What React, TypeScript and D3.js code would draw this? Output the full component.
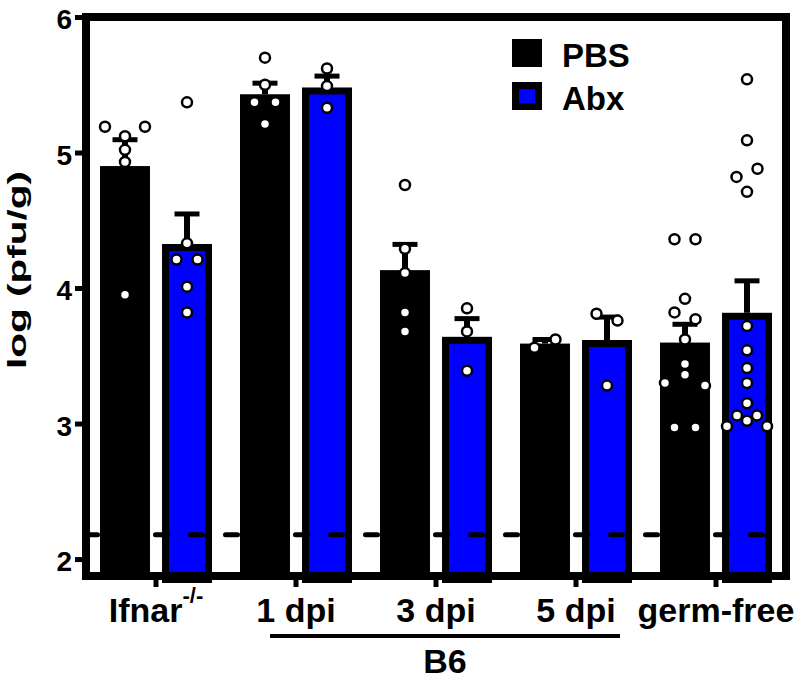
import { useEffect, useRef } from "react";
import * as d3 from "d3";

// группы по оси X и подписи
const groups = ["Ifnar", "1 dpi", "3 dpi", "5 dpi", "germ-free"];
const groupSup = ["-/-", "", "", "", ""];
const treatments = ["PBS", "Abx"];
const treatmentColors = ["#000000", "#0000ff"];

// отдельные точки (log pfu/g), по группам
const pbsPoints = [
  [5.19, 5.12, 5.19, 5.02, 4.93, 3.95],
  [5.7, 5.5, 5.37, 5.37, 5.21],
  [4.76, 4.29, 4.11, 3.82, 3.68],
  [3.56, 3.62],
  [4.36, 4.36, 3.92, 3.82, 3.77, 3.62, 3.44, 3.3, 3.36, 3.28, 2.97, 2.97],
];
const abxPoints = [
  [5.37, 4.33, 4.21, 4.21, 4.01, 3.82],
  [5.62, 5.49, 5.33],
  [3.85, 3.68, 3.39],
  [3.81, 3.76, 3.28],
  [5.54, 5.09, 4.82, 4.88, 4.71, 3.72, 3.54, 3.41, 3.3, 3.15, 2.98, 3.06, 3.02, 3.06, 2.98],
];

const yTicks = [2, 3, 4, 5, 6];
const yDomain = [1.875, 6];
const detectionLimit = 2.18;
const strainLabel = "B6";
const strainGroups = ["1 dpi", "5 dpi"];
const yLabel = "log (pfu/g)";

const FONT = "'Liberation Sans', Arial, Helvetica, sans-serif";

// простая раскладка точек в ряды (как в Prism)
const swarm = (values, py) => {
  const items = values.map((v, i) => ({ v, i, py: py(v), dx: 0 }));
  const sorted = [...items].sort((a, b) => a.py - b.py || a.i - b.i);
  const rows = [];
  sorted.forEach((p) => {
    const row = rows[rows.length - 1];
    if (row && p.py - row[row.length - 1].py < 10) row.push(p);
    else rows.push([p]);
  });
  rows.forEach((row) => row.sort((a, b) => a.i - b.i));
  const place = (row, step) =>
    row.forEach((p, k) => (p.dx = (k - (row.length - 1) / 2) * step));
  rows.forEach((row) =>
    place(row, row.length === 1 ? 0 : Math.min(21, 40 / (row.length - 1)))
  );
  rows.forEach((row, r) => {
    if (row.length !== 2) return;
    const near = [rows[r - 1], rows[r + 1]].some(
      (nb) =>
        nb &&
        nb.some((q) => row.some((p) => Math.hypot(p.dx - q.dx, p.py - q.py) < 16.5))
    );
    if (near) place(row, 40);
  });
  return items;
};

const App = () => {
  const svgRef = useRef(null);

  useEffect(() => {
    const left = 86;
    const right = 786;
    const top = 17;
    const bottom = 576;

    d3.select(svgRef.current).selectAll("*").remove();
    const svg = d3.select(svgRef.current).append("g").attr("font-family", FONT);

    const x = d3.scaleBand().domain(groups).range([left, right]);
    const sub = d3.scaleBand().domain(treatments).range([-56, 56]).paddingInner(0.194);
    const y = d3.scaleLinear().domain(yDomain).range([bottom, top]);
    const cx = (g) => x(g) + x.bandwidth() / 2;

    const bars = [];
    groups.forEach((g, gi) => {
      [pbsPoints[gi], abxPoints[gi]].forEach((pts, ti) => {
        const mean = d3.mean(pts);
        const sem = d3.deviation(pts) / Math.sqrt(pts.length);
        const x0 = cx(g) + sub(treatments[ti]);
        bars.push({ g, ti, pts, mean, sem, x0, c: x0 + sub.bandwidth() / 2 });
      });
    });

    // столбцы
    bars.forEach((b) => {
      const w = sub.bandwidth();
      if (b.ti === 0) {
        svg.append("rect")
          .attr("x", b.x0).attr("y", y(b.mean))
          .attr("width", w).attr("height", bottom - y(b.mean))
          .attr("fill", treatmentColors[0]);
      } else {
        svg.append("rect")
          .attr("x", b.x0 + 3.5).attr("y", y(b.mean) + 3.5)
          .attr("width", w - 7).attr("height", bottom - y(b.mean))
          .attr("fill", treatmentColors[1])
          .attr("stroke", "#000").attr("stroke-width", 7);
      }
    });

    // планки погрешностей (SEM)
    bars.forEach((b) => {
      svg.append("line")
        .attr("x1", b.c).attr("x2", b.c)
        .attr("y1", y(b.mean)).attr("y2", y(b.mean + b.sem))
        .attr("stroke", "#000").attr("stroke-width", 6);
      svg.append("line")
        .attr("x1", b.c - 12.5).attr("x2", b.c + 12.5)
        .attr("y1", y(b.mean + b.sem)).attr("y2", y(b.mean + b.sem))
        .attr("stroke", "#000").attr("stroke-width", 5);
    });

    // предел обнаружения
    svg.append("line")
      .attr("x1", left + 4).attr("x2", right - 4)
      .attr("y1", y(detectionLimit)).attr("y2", y(detectionLimit))
      .attr("stroke", "#000").attr("stroke-width", 5)
      .attr("stroke-dasharray", "12 23").attr("stroke-dashoffset", 4.5)
      .attr("stroke-linecap", "round");

    // рамка
    svg.append("rect")
      .attr("x", left).attr("y", top)
      .attr("width", right - left).attr("height", bottom - top)
      .attr("fill", "none").attr("stroke", "#000").attr("stroke-width", 8);

    // Y ось
    const yAxis = svg.append("g")
      .attr("transform", `translate(${left - 4},0)`)
      .call(d3.axisLeft(y).tickValues(yTicks).tickSize(7).tickPadding(3).tickFormat(d3.format("d")));
    yAxis.attr("font-family", FONT).attr("font-size", 28).attr("font-weight", "bold");
    yAxis.select(".domain").remove();
    yAxis.selectAll("line").attr("stroke-width", 5);
    yAxis.selectAll("text").attr("dy", "0.42em").attr("fill", "#000");

    // X ось
    const xAxis = svg.append("g")
      .attr("transform", `translate(0,${bottom + 4})`)
      .call(d3.axisBottom(x).tickSize(7).tickFormat(() => ""));
    xAxis.select(".domain").remove();
    xAxis.selectAll("line").attr("stroke-width", 5);

    // точки
    bars.forEach((b) => {
      swarm(b.pts, y).forEach((p) => {
        svg.append("circle")
          .attr("cx", b.c + p.dx).attr("cy", p.py).attr("r", 5)
          .attr("fill", "#fff").attr("stroke", "#000").attr("stroke-width", 2.5);
      });
    });

    // подписи групп
    groups.forEach((g, gi) => {
      const t = svg.append("text")
        .attr("x", cx(g)).attr("y", 622)
        .attr("text-anchor", "middle")
        .attr("font-size", 34).attr("font-weight", "bold")
        .text(g);
      if (groupSup[gi]) {
        t.append("tspan").attr("dy", -19).attr("font-size", 22).text(groupSup[gi]);
      }
    });

    // B6
    const bx1 = cx(strainGroups[0]) - 26;
    const bx2 = cx(strainGroups[1]) + 44;
    svg.append("line")
      .attr("x1", bx1).attr("x2", bx2).attr("y1", 636).attr("y2", 636)
      .attr("stroke", "#000").attr("stroke-width", 4);
    svg.append("text")
      .attr("x", (bx1 + bx2) / 2).attr("y", 673)
      .attr("text-anchor", "middle")
      .attr("font-size", 34).attr("font-weight", "bold")
      .text(strainLabel);

    // подпись оси Y
    svg.append("text")
      .attr("transform", "rotate(-90)")
      .attr("x", -270).attr("y", 26)
      .attr("text-anchor", "middle")
      .attr("font-size", 25).attr("font-weight", "bold")
      .attr("textLength", 198).attr("lengthAdjust", "spacingAndGlyphs")
      .text(yLabel);

    // легенда
    treatments.forEach((t, i) => {
      const ly = 39 + i * 43;
      if (i === 0) {
        svg.append("rect").attr("x", 512).attr("y", ly).attr("width", 30).attr("height", 28)
          .attr("fill", treatmentColors[0]);
      } else {
        svg.append("rect").attr("x", 515.5).attr("y", ly + 3.5).attr("width", 23).attr("height", 21)
          .attr("fill", treatmentColors[1]).attr("stroke", "#000").attr("stroke-width", 7);
      }
      svg.append("text")
        .attr("x", 562).attr("y", ly + 28)
        .attr("font-size", 33).attr("font-weight", "bold")
        .text(t);
    });
  }, []);

  return (
    <div>
      <svg
        ref={svgRef}
        width={800}
        height={682}
        style={{ position: "absolute", left: 0, top: 0, background: "#fff" }}
      ></svg>
    </div>
  );
};

export default App;
